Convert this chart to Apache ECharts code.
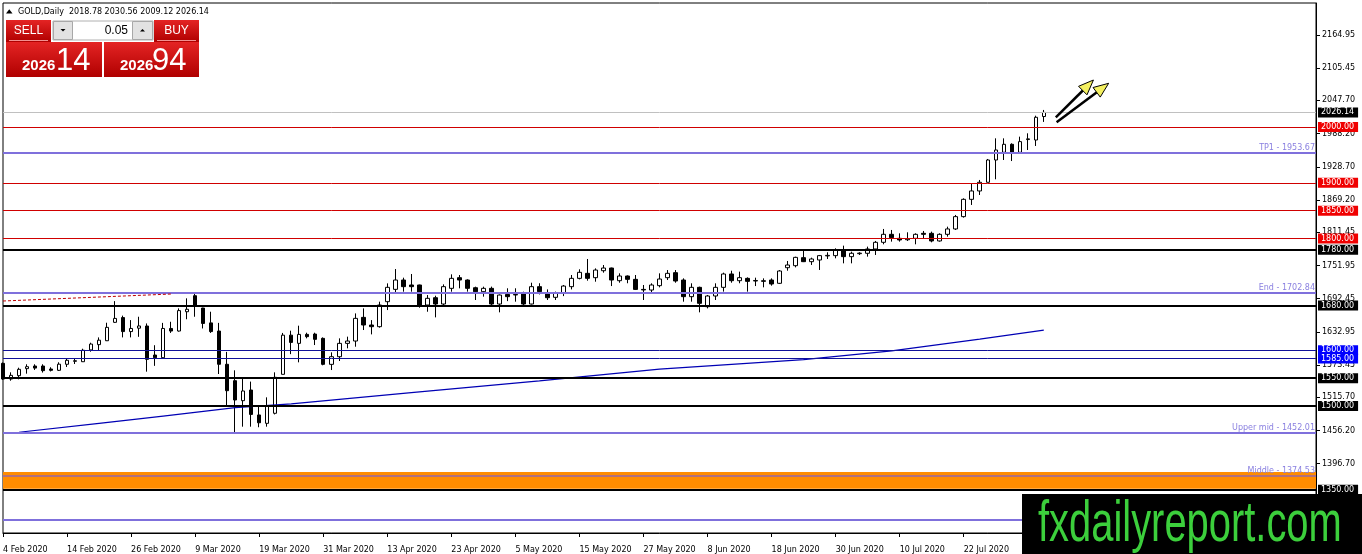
<!DOCTYPE html>
<html><head><meta charset="utf-8">
<script src="https://cdn.jsdelivr.net/npm/echarts@6/dist/echarts.min.js"></script>
<style>html,body{margin:0;padding:0;background:#fff;overflow:hidden}#c{width:1362px;height:554px}</style>
</head><body><div id="c"></div>
<script>
const symbolName = 'GOLD,Daily';
const bid = 2026.14, ask = 2026.94, lotSize = '0.05';
const holidays = ['2020-04-10'];
const opens = [1576.5,1548.4,1554.4,1567,1571.7,1571.7,1566.3,1564,1574.8,1580.2,
1579.4,1600.5,1610,1617,1650,1658.5,1633.4,1639.5,1643.4,1591.4,
1586.6,1639,1634.4,1669,1697.7,1675.6,1649,1634.4,1574.8,1545.4,
1509.6,1528.7,1484,1469,1487,1556.8,1627,1612.3,1628.4,1629,
1621.3,1574.7,1588.4,1612.3,1616.5,1658.9,1645.2,1642.2,1687,1709.1,
1725.8,1716.9,1716.9,1681,1694.1,1682.8,1710.9,1730,1725.8,1712,
1704.9,1710.9,1682.8,1700,1699,1701.9,1682.8,1713.9,1700.7,1694.8,
1701.9,1713.9,1728.8,1737.8,1730,1742.5,1747.3,1724.6,1733,1727,
1709,1707.9,1715.7,1730,1739,1725.8,1696,1712.7,1678,1697.2,
1712.7,1736.6,1724.6,1728.8,1724,1724.5,1725.8,1719.9,1747.9,1751.5,
1765.9,1758.7,1761.7,1769,1769.5,1779.6,1767.7,1773,1773.7,1781.4,
1793.4,1807.7,1800.5,1798,1800.5,1809.5,1809.5,1795.8,1807.7,1817.3,
1839.4,1870.4,1885.4,1900.9,1940.9,1954.7,1969,1954.7,1977.5,1976.7,
2018.78];
const closes = [1548.4,1555,1565.8,1570.5,1568,1563.4,1564,1575,1582,1581.2,
1600,1611,1618,1641,1657,1633.4,1639,1643.5,1583.7,1586.6,
1639,1634.4,1671,1673.4,1679,1648,1633.4,1574.8,1527.5,1510.8,
1527,1485,1470,1500,1551.5,1627,1614,1628.4,1624.3,1619.5,
1574.7,1588.4,1612.3,1616.5,1657.1,1645.2,1642.2,1681,1712.7,1725.8,
1713.9,1713.9,1679.8,1693,1682.8,1713.9,1728.8,1725.8,1710.9,1704.9,
1710.9,1682.8,1698.9,1696,1700,1682.8,1713.9,1705,1694.1,1701.9,
1715,1728.8,1739.6,1728.8,1743.7,1747.3,1725.8,1733,1727,1709,
1708,1716.9,1727.6,1737.8,1724,1696,1712.7,1684,1697.2,1712.7,
1736.6,1724.6,1730,1723.4,1725,1723.5,1718.7,1742,1752.7,1766.4,
1758.7,1763.5,1769.5,1770,1779.6,1767.7,1773.7,1774,1781.4,1793.4,
1807.7,1801.7,1797.6,1800,1807.7,1807.7,1795.8,1807.7,1817.3,1839.4,
1870.4,1885.4,1900.9,1940.9,1958.8,1969,1954.7,1973.8,1978.8,2017.4,
2026.14];
const lows = [1547,1545.4,1547.9,1558,1564.7,1560,1562,1562.8,1570,1575.3,
1579,1597.4,1600.4,1616.5,1649,1623,1623,1624,1561.6,1572,
1586,1631,1633.4,1655.5,1660,1639,1631,1557.4,1500,1449.9,
1463,1463,1462,1463,1485,1556.8,1593,1578.3,1621.3,1609.3,
1573,1564.5,1580.7,1603.4,1606.3,1636.2,1628.4,1640.4,1672,1703.7,
1704.9,1704.9,1676.2,1669,1658.9,1681,1704.9,1710.9,1705,1690,
1696,1681,1667.9,1688,1687,1681,1682,1700,1690,1690,
1697,1709,1727,1724.6,1722.8,1739,1715,1721,1720,1707.9,
1690,1703,1712.7,1725.8,1721,1687,1687,1667.9,1675,1690,
1705,1721,1720,1705,1715,1712.7,1715.7,1718.7,1742.5,1748.5,
1758,1752.8,1743.8,1763.5,1764.7,1755.7,1755.7,1770.7,1767.7,1770.7,
1789.8,1794.6,1794.6,1795.8,1789.8,1800.5,1793.4,1794.6,1803.5,1815.5,
1837.6,1860.3,1878.2,1900.9,1906.3,1940.9,1939,1952.9,1958.8,1966,
2009.12];
const highs = [1578,1560.4,1568.7,1574.8,1574.8,1574.8,1569.5,1578.4,1584.3,1584.9,
1602.7,1613.5,1623,1649.3,1688,1662,1654,1660,1648,1609,
1649,1651,1675,1693,1702,1676,1669,1649,1597,1564,
1551.5,1543.8,1500,1515.6,1560.4,1631,1635,1644,1631.4,1631.4,
1623,1596.2,1621.3,1624.3,1666,1675,1654,1687,1719.8,1745.5,
1730,1736.6,1717.5,1698.9,1697.7,1718,1736,1734.8,1727,1713.9,
1713.9,1714,1700,1711,1711,1704.9,1721,1720,1709,1705,
1716.9,1734.8,1745,1763.5,1746.7,1752.7,1748,1737.8,1734,1734.8,
1716.9,1719.9,1737.8,1743.7,1743.7,1728.8,1719.9,1713.9,1699,1719.9,
1739,1742.5,1740.8,1730.6,1730,1728.8,1728.8,1743.7,1759.9,1767.6,
1778.4,1765.9,1770.7,1775.5,1782.6,1787.4,1776.6,1775.5,1785.6,1795.8,
1817.3,1815.5,1809.5,1811.3,1809.5,1813.7,1812.5,1809.5,1821.4,1842.4,
1872.2,1899.1,1905.1,1942.7,1979.7,1979.7,1970.8,1982.7,1988.7,2020.3,
2030.56];
// moving average read at sampled bars: [bar index, price]
const maPoints = [[2,1453],[12,1469],[20,1482],[29,1497],[36,1504],[51,1524],[67,1545],[82,1566],[100,1583],[111,1599],[122,1620],[130,1636]];
const yTickLabels = [2164.95,2105.45,2047.70,1988.20,1928.70,1869.20,1811.45,1751.95,1692.45,1632.95,1573.45,1515.70,1456.20,1396.70,1337.20];
const currentPrice = 2026.14;
const redLevels = [2000,1900,1850,1800];
const blackLevels = [1780,1680,1550,1500,1350];
const blueLevels = [1600,1585];
const fiboNames = ['TP1','End','Upper mid','Middle','Lower mid'];
const fiboLevels = [1953.67,1702.84,1452.01,1374.53,1297.05];
const band = [1352,1382];
const trendLine = [[0,1688.2],[21,1700.7]];
const arrowsData = [[131.5,2017.4,136.2,2084.2],[131.6,2008.4,138.1,2078.3]];
const totalSlots = 165;

const MONTHS = ['Jan','Feb','Mar','Apr','May','Jun','Jul','Aug','Sep','Oct','Nov','Dec'];
const categories = [];
(function(){
  let d = new Date(Date.UTC(2020,1,4));
  while (categories.length < opens.length) {
    const wd = d.getUTCDay(), key = d.toISOString().slice(0,10);
    if (wd !== 0 && wd !== 6 && holidays.indexOf(key) < 0)
      categories.push(d.getUTCDate() + ' ' + MONTHS[d.getUTCMonth()] + ' ' + d.getUTCFullYear());
    d = new Date(d.getTime() + 86400000);
  }
  while (categories.length < totalSlots) categories.push('');
})();

const candleData = opens.map((o,i) => [o, closes[i], lows[i], highs[i]]);
const FONT = 'DejaVu Sans';
function boxLabel(v, bg) {
  return {show:true, position:'end', distance:2, formatter:v.toFixed(2), color:'#fff', backgroundColor:bg,
    padding:[1,4,0,3], fontSize:8, fontFamily:FONT, lineHeight:9};
}
const lines = [];
lines.push({yAxis:currentPrice, lineStyle:{color:'#c0c0c0',width:1,type:'solid'}, label:boxLabel(currentPrice,'#000')});
redLevels.forEach(v => lines.push({yAxis:v, lineStyle:{color:'#d00000',width:1,type:'solid'}, label:boxLabel(v,'#f00000')}));
blackLevels.forEach(v => lines.push({yAxis:v, lineStyle:{color:'#000',width:2,type:'solid'}, label:boxLabel(v,'#000')}));
blueLevels.forEach(v => lines.push({yAxis:v, lineStyle:{color:'#10109a',width:1,type:'solid'}, label:boxLabel(v,'#0000ff')}));
fiboLevels.forEach((v,i) => lines.push({yAxis:v,
  lineStyle:{color: fiboNames[i]==='Middle' ? '#b0707e' : '#7f70dc', width:2, type:'solid'},
  label:{show:true, position:'insideEndTop', distance:1, formatter: fiboNames[i] + ' - ' + v.toFixed(2),
    color:'#8a80e0', fontSize:8, fontFamily:FONT}}));
const tlStyle = {color:'#c00000', width:1, type:[3,2]};
lines.push([{coord:trendLine[0], lineStyle:tlStyle, label:{show:false}},{coord:trendLine[1], lineStyle:tlStyle, label:{show:false}}]);

const chart = echarts.init(document.getElementById('c'));
chart.setOption({
  animation:false,
  backgroundColor:'#fff',
  grid:{left:3, right:46, top:3, bottom:21, show:true, borderColor:'#000', borderWidth:1},
  xAxis:{type:'category', data:categories, boundaryGap:false,
    axisLine:{lineStyle:{color:'#000',width:1}},
    axisTick:{interval:7, length:4, lineStyle:{color:'#000'}},
    axisLabel:{interval:7, align:'left', fontSize:8, fontFamily:FONT, color:'#000', margin:13},
    splitLine:{show:false}},
  yAxis:{type:'value', position:'right', min:1272.5, max:2222.2, scale:true,
    axisLine:{show:true, lineStyle:{color:'#000'}},
    axisTick:{show:true, length:4, customValues:yTickLabels, lineStyle:{color:'#000'}},
    axisLabel:{customValues:yTickLabels, formatter:v => Number(v).toFixed(2), fontSize:8, fontFamily:FONT, color:'#000', margin:6},
    splitLine:{show:false}},
  series:[
    {type:'line', data:[], silent:true, clip:false, z:1,
      markArea:{silent:true, data:[[{yAxis:band[0], itemStyle:{color:'#ff8c00'}},{yAxis:band[1]}]]},
      markLine:{silent:true, symbol:['none','none'], animation:false, data:lines}},
    {type:'candlestick', data:candleData, barWidth:4, z:3, silent:true,
      itemStyle:{color:'#fff', color0:'#000', borderColor:'#000', borderColor0:'#000', borderWidth:1}},
    {type:'line', data:maPoints, symbol:'none', showSymbol:false, silent:true, z:4,
      lineStyle:{color:'#0000b4', width:1.2}}
  ]
});

// overlays
function px(idx, price){
  const p0 = chart.convertToPixel({gridIndex:0}, [0, price]);
  const p1 = chart.convertToPixel({gridIndex:0}, [1, price]);
  return [p0[0] + idx*(p1[0]-p0[0]), p0[1]];
}
const g = [];
arrowsData.forEach((a,k) => {
  const s = px(a[0],a[1]), t = px(a[2],a[3]);
  const dx = t[0]-s[0], dy = t[1]-s[1], L = Math.hypot(dx,dy), ux = dx/L, uy = dy/L;
  const bx = t[0]-15*ux, by = t[1]-15*uy, nx = -uy, ny = ux;
  g.push({type:'line', z:50, shape:{x1:s[0],y1:s[1],x2:bx+4*ux,y2:by+4*uy}, style:{stroke:'#000', lineWidth:2.5}});
  g.push({type:'polygon', z:51, shape:{points:[[t[0],t[1]],[bx+6*nx,by+6*ny],[bx-6*nx,by-6*ny]]}, style:{fill:'#f4f060', stroke:'#000', lineWidth:1}});
});
const redGrad = () => new echarts.graphic.LinearGradient(0,0,0,1,[{offset:0,color:'#e42424'},{offset:1,color:'#b00000'}]);
const bidStr = bid.toFixed(2), askStr = ask.toFixed(2);
const hdr = symbolName + '  ' + [opens[opens.length-1], highs[highs.length-1], lows[lows.length-1], closes[closes.length-1]].map(v=>v.toFixed(2)).join(' ');
g.push({type:'polygon', z:60, shape:{points:[[6,13.5],[12.5,13.5],[9.25,9.3]]}, style:{fill:'#000'}});
g.push({type:'text', z:60, x:18, y:11.5, style:{text:hdr, fill:'#000', font:'8px "DejaVu Sans"', verticalAlign:'middle'}});
// trade panel
g.push({type:'rect', z:60, shape:{x:6,y:20,width:45,height:22}, style:{fill:redGrad()}});
g.push({type:'line', z:61, shape:{x1:9,y1:40.5,x2:48,y2:40.5}, style:{stroke:'#f29090', lineWidth:1}});
g.push({type:'text', z:61, x:28.5, y:31, style:{text:'SELL', fill:'#fff', font:'12px "Liberation Sans"', align:'center', verticalAlign:'middle'}});
g.push({type:'rect', z:60, shape:{x:53,y:21,width:100,height:19}, style:{fill:'#fff', stroke:'#b0b0b0', lineWidth:1}});
g.push({type:'rect', z:61, shape:{x:53.5,y:21.5,width:19,height:18}, style:{fill:'#e2e2e2', stroke:'#a8a8a8', lineWidth:1}});
g.push({type:'polygon', z:62, shape:{points:[[60.5,29],[65.5,29],[63,31.5]]}, style:{fill:'#000'}});
g.push({type:'rect', z:61, shape:{x:132.5,y:21.5,width:20,height:18}, style:{fill:'#e2e2e2', stroke:'#a8a8a8', lineWidth:1}});
g.push({type:'polygon', z:62, shape:{points:[[140,31.5],[145,31.5],[142.5,29]]}, style:{fill:'#000'}});
g.push({type:'text', z:61, x:128, y:30.5, style:{text:lotSize, fill:'#000', font:'12px "Liberation Sans"', align:'right', verticalAlign:'middle'}});
g.push({type:'rect', z:60, shape:{x:154,y:20,width:45,height:22}, style:{fill:redGrad()}});
g.push({type:'line', z:61, shape:{x1:157,y1:40.5,x2:196,y2:40.5}, style:{stroke:'#f29090', lineWidth:1}});
g.push({type:'text', z:61, x:176.5, y:31, style:{text:'BUY', fill:'#fff', font:'12px "Liberation Sans"', align:'center', verticalAlign:'middle'}});
g.push({type:'rect', z:60, shape:{x:6,y:42,width:96,height:35}, style:{fill:redGrad()}});
g.push({type:'rect', z:60, shape:{x:104,y:42,width:95,height:35}, style:{fill:redGrad()}});
g.push({type:'text', z:61, x:22, y:66, style:{text:bidStr.slice(0,4), fill:'#fff', font:'bold 15px "Liberation Sans"', verticalAlign:'middle'}});
g.push({type:'text', z:61, x:56, y:61, style:{text:bidStr.slice(5,7), fill:'#fff', font:'31px "Liberation Sans"', verticalAlign:'middle'}});
g.push({type:'text', z:61, x:120, y:66, style:{text:askStr.slice(0,4), fill:'#fff', font:'bold 15px "Liberation Sans"', verticalAlign:'middle'}});
g.push({type:'text', z:61, x:152, y:61, style:{text:askStr.slice(5,7), fill:'#fff', font:'31px "Liberation Sans"', verticalAlign:'middle'}});
// watermark
g.push({type:'rect', z:80, shape:{x:1022,y:494,width:340,height:60}, style:{fill:'#000'}});
g.push({type:'text', z:81, x:1038, y:525, scaleX:0.7, style:{text:'fxdailyreport.com', fill:'#3ccf3c', font:'57px "Liberation Sans"', verticalAlign:'middle'}});
chart.setOption({graphic:{elements:g}});
</script></body></html>
